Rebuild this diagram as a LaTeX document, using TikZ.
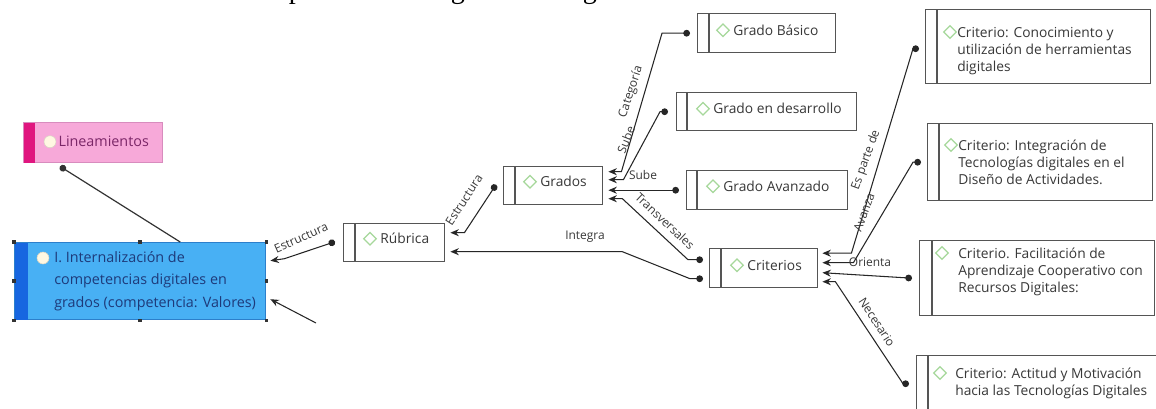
\documentclass[tikz,border=0pt]{standalone}
\usepackage{fontspec}
\setmainfont{Open Sans}
\newfontfamily\capfont{Liberation Serif}
\usetikzlibrary{arrows.meta,calc,shapes.geometric}
\newdimen\pxu \pxu=0.025cm
\definecolor{boxline}{HTML}{555555}
\definecolor{txt}{HTML}{383838}
\definecolor{icongreen}{HTML}{A6D89B}
\definecolor{pinkfill}{HTML}{F7A9D9}
\definecolor{pinkbar}{HTML}{E0157F}
\definecolor{pinkline}{HTML}{D88CBE}
\definecolor{pinktext}{HTML}{7B2768}
\definecolor{bluefill}{HTML}{48B0F4}
\definecolor{bluebar}{HTML}{1766E0}
\definecolor{blueline}{HTML}{2C7FCB}
\definecolor{bluetext}{HTML}{1E3A7A}
\definecolor{iconcream}{HTML}{FFF8E2}
\begin{document}
\begin{tikzpicture}[x=0.025cm,y=-0.025cm,
  cbox/.style={draw=boxline, line width=1pt, fill=white, rectangle, inner sep=0pt, anchor=north west},
  cdiv/.style={draw=boxline, line width=1pt},
  ctext/.style={text=txt, font=\fontsize{9.8}{12.1}\selectfont, align=left, inner sep=0pt},
  btext/.style={text=bluetext, font=\fontsize{10.2}{16}\selectfont, align=left, inner sep=0pt},
  lbl/.style={text=txt, font=\fontsize{8.5}{10}\selectfont, inner sep=0pt},
  dia/.style={diamond, draw=icongreen, line width=0.9pt, fill=white, inner sep=0pt, minimum size=13\pxu},
  dot/.style={circle, draw=iconcream!70!gray, fill=iconcream, inner sep=0pt, minimum size=12\pxu},
  conn/.style={draw=black!85, line width=0.75pt, {Circle[length=4.8pt]}-{Stealth[length=6pt,width=5pt]}},
  tipconn/.style={draw=black!85, line width=0.75pt, -{Stealth[length=6pt,width=5pt]}},
  dotconn/.style={draw=black!80, line width=0.85pt, {Circle[length=4.8pt]}-},
  handle/.style={fill=black!80}]
\clip (0,0) rectangle (1156,408);
\fill[white] (0,0) rectangle (1156,408);

% descenders of the caption line above
\node[font=\capfont\fontsize{20}{24}\selectfont, anchor=base, inner sep=0pt] (cap1) at (296,-2) {p};
\node[font=\capfont\fontsize{20}{24}\selectfont, anchor=base, inner sep=0pt] (cap2) at (458,-2) {g};
\node[font=\capfont\fontsize{20}{24}\selectfont, anchor=base, inner sep=0pt] (cap3) at (590,-2) {g};

% ---------- Lineamientos ----------
\node[cbox, draw=pinkline, fill=pinkfill, minimum width=139\pxu, minimum height=40\pxu] (lin) at (23,122) {};
\fill[pinkbar] ($(lin.north west)+(0.5,0.5)$) rectangle ($(lin.south west)+(12,-0.5)$);
\node[dot] (lini) at ($(lin.west)+(27,-1)$) {};
\node[btext, text=pinktext, anchor=west] (lint) at ($(lini.east)+(2,0)$) {Lineamientos};

% ---------- competence box ----------
\node[cbox, draw=blueline, fill=bluefill, minimum width=251\pxu, minimum height=77\pxu] (blue) at (14,242) {};
\fill[bluebar] ($(blue.north west)+(0.5,0.5)$) rectangle ($(blue.south west)+(14,-0.5)$);
\node[dot] (bluei) at ($(blue.north west)+(29,16)$) {};
\node[btext, anchor=north west] (bluet) at ($(blue.north west)+(40,9)$) {I. Internalización de\\competencias digitales en\\grados (competencia: Valores)};
\foreach \a in {north west, north, north east, west, east, south west, south, south east}
  \fill[handle] (blue.\a) ++(-1.8,-1.8) rectangle ++(3.6,3.6);

% ---------- concept boxes ----------
\node[cbox, minimum width=101\pxu, minimum height=38\pxu] (rub) at (343,223) {};
\draw[cdiv] (rub.north west) ++(12,0) -- ++(0,38);
\node[dia] (rubi) at ($(rub.west)+(27,-4)$) {};
\node[ctext, anchor=west] (rubt) at ($(rubi.east)+(3,0)$) {Rúbrica};

\node[cbox, minimum width=99\pxu, minimum height=38\pxu] (grados) at (503,166) {};
\draw[cdiv] (grados.north west) ++(12,0) -- ++(0,38);
\node[dia] (gradosi) at ($(grados.west)+(27,-4)$) {};
\node[ctext, anchor=west] (gradost) at ($(gradosi.east)+(3,0)$) {Grados};

\node[cbox, minimum width=138\pxu, minimum height=39\pxu] (gb) at (697,13) {};
\draw[cdiv] (gb.north west) ++(12,0) -- ++(0,39);
\node[dia] (gbi) at ($(gb.west)+(26,-3)$) {};
\node[ctext, anchor=west] (gbt) at ($(gbi.east)+(3,0)$) {Grado Básico};

\node[cbox, minimum width=180\pxu, minimum height=38\pxu] (gd) at (676,92) {};
\draw[cdiv] (gd.north west) ++(11,0) -- ++(0,38);
\node[dia] (gdi) at ($(gd.west)+(27,-3)$) {};
\node[ctext, anchor=west] (gdt) at ($(gdi.east)+(3,0)$) {Grado en desarrollo};

\node[cbox, minimum width=161\pxu, minimum height=39\pxu] (ga) at (686,170) {};
\draw[cdiv] (ga.north west) ++(11,0) -- ++(0,39);
\node[dia] (gai) at ($(ga.west)+(27,-4)$) {};
\node[ctext, anchor=west] (gat) at ($(gai.east)+(3,0)$) {Grado Avanzado};

\node[cbox, minimum width=108\pxu, minimum height=39\pxu] (crit) at (709,248) {};
\draw[cdiv] (crit.north west) ++(12,0) -- ++(0,39);
\node[dia] (criti) at ($(crit.west)+(28,-3)$) {};
\node[ctext, anchor=west] (critt) at ($(criti.east)+(3,0)$) {Criterios};

% ---------- criteria ----------
\node[cbox, minimum width=225\pxu, minimum height=74\pxu] (c1) at (925,9) {};
\draw[cdiv] (c1.north west) ++(12,0) -- ++(0,74);
\node[dia] (c1i) at ($(c1.north west)+(25,23)$) {};
\node[ctext, anchor=north west] (c1t) at ($(c1.north west)+(32,18)$) {Criterio: Conocimiento y\\utilización de herramientas\\digitales};

\node[cbox, minimum width=225\pxu, minimum height=77\pxu] (c2) at (927,123) {};
\draw[cdiv] (c2.north west) ++(12,0) -- ++(0,77);
\node[dia] (c2i) at ($(c2.north west)+(24,22)$) {};
\node[ctext, anchor=north west] (c2t) at ($(c2.north west)+(31,17)$) {Criterio: Integración de\\Tecnologías digitales en el\\Diseño de Actividades.};

\node[cbox, minimum width=235\pxu, minimum height=75\pxu] (c3) at (919,240) {};
\draw[cdiv] (c3.north west) ++(13,0) -- ++(0,75);
\node[dia] (c3i) at ($(c3.north west)+(23,13)$) {};
\node[ctext, anchor=north west] (c3t) at ($(c3.north west)+(39,8)$) {Criterio. Facilitación de\\Aprendizaje Cooperativo con\\Recursos Digitales:};

\node[cbox, minimum width=250\pxu, minimum height=60\pxu] (c4) at (916,355) {};
\draw[cdiv] (c4.north west) ++(12,0) -- ++(0,60);
\node[dia] (c4i) at ($(c4.north west)+(24,18)$) {};
\node[ctext, anchor=north west] (c4t) at ($(c4.north west)+(39,13)$) {Criterio: Actitud y Motivación\\hacia las Tecnologías Digitales};

% ---------- connectors ----------
\draw[dotconn] ($(lin.south west)+(37,3)$) -- ($(blue.north)+(40,0)$);
\draw[conn] ($(rub.west)+(-8,-1)$) -- ($(blue.east)+(18,-22.5)$) -- ($(blue.east)+(4,-20.5)$);
\coordinate (stub) at (316,323);
\draw[tipconn] (stub) -- ($(blue.east)+(4,18)$);
\draw[conn] ($(grados.west)+(-7,-1)$) -- ($(rub.east)+(19,-10)$) -- ($(rub.east)+(5,-10)$);
\draw[conn] ($(crit.west)+(-6,10.5)$) -- ++(-13,0) -- ($(rub.east)+(177,9)$) -- ($(rub.east)+(5,9)$);
\draw[conn] ($(crit.west)+(-6,-8.5)$) -- ++(-15,0) -- ($(grados.east)+(19,13)$) -- ($(grados.east)+(5,13)$);
\draw[conn] ($(gb.west)+(-7,0)$) -- ++(-28,0) -- ($(grados.east)+(18,-14)$) -- ($(grados.east)+(5,-14)$);
\draw[conn] ($(gd.west)+(-8,0)$) -- ++(-8,0) -- ($(grados.east)+(20,-6)$) -- ($(grados.east)+(5,-6)$);
\draw[conn] ($(ga.west)+(-7,0)$) -- ($(grados.east)+(5,4.5)$);
\draw[conn] ($(c1.west)+(-6,2)$) -- ++(-6,0) -- ($(crit.east)+(33,-15)$) -- ($(crit.east)+(4,-15)$);
\draw[conn] ($(c2.west)+(-6,0)$) -- ++(-8,0) -- ($(crit.east)+(35,-5.5)$) -- ($(crit.east)+(4,-5.5)$);
\draw[conn] ($(c3.west)+(-7,0)$) -- ($(crit.east)+(4,4.5)$);
\draw[conn] ($(c4.west)+(-7,-2)$) -- ++(-6,0) -- ($(crit.east)+(17,13.5)$) -- ($(crit.east)+(4,13.5)$);

% ---------- link labels ----------
\node[lbl, rotate=24] (l1) at (301,238) {Estructura};
\node[lbl, rotate=57] (l2) at (464,200) {Estructura};
\node[lbl] (l3) at (585,237) {Integra};
\node[lbl, rotate=72] (l4) at (631,92) {Categoría};
\node[lbl, rotate=68] (l5) at (626,140) {Sube};
\node[lbl] (l6) at (643,175) {Sube};
\node[lbl, rotate=-43] (l7) at (665,221) {Transversales};
\node[lbl, rotate=70] (l8) at (866,160) {Es parte de};
\node[lbl, rotate=70] (l9) at (864,212) {Avanza};
\node[lbl] (l10) at (870,262) {Orienta};
\node[lbl, rotate=-57] (l11) at (877,322) {Necesario};
\end{tikzpicture}
\end{document}
